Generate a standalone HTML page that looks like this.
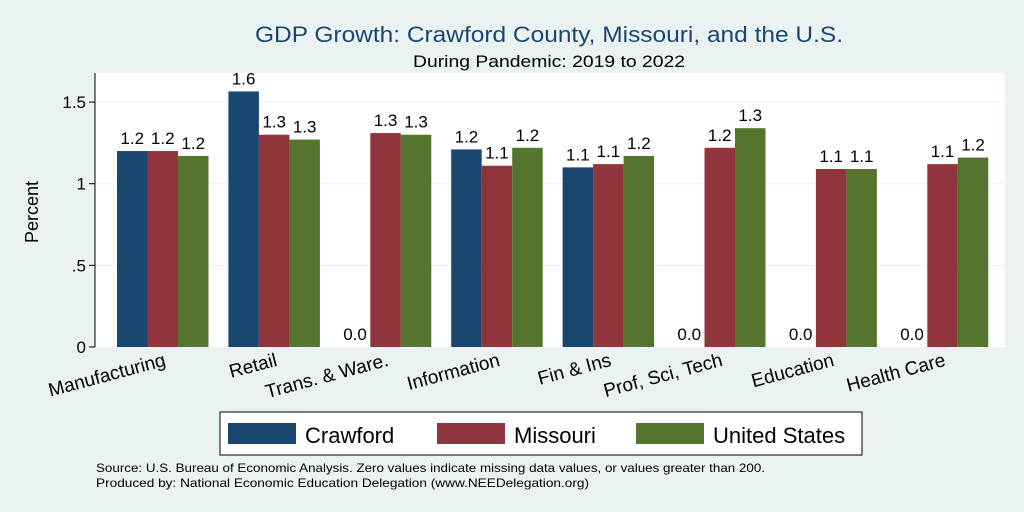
<!DOCTYPE html>
<html><head><meta charset="utf-8"><style>
body{margin:0;background:#eaf2f3;}
svg{display:block;font-family:"Liberation Sans",sans-serif;}
</style></head><body>
<svg id="chart" width="1024" height="512">
<rect x="0" y="0" width="1024" height="512" fill="#eaf2f3"/>
<rect x="95" y="73" width="910" height="274" fill="#ffffff"/>
<text x="549" y="42" text-anchor="middle" font-size="22" textLength="588" lengthAdjust="spacingAndGlyphs" fill="#1a476f">GDP Growth: Crawford County, Missouri, and the U.S.</text>
<text x="549" y="67" text-anchor="middle" font-size="17" textLength="272" lengthAdjust="spacingAndGlyphs" fill="#000">During Pandemic: 2019 to 2022</text>
<text transform="translate(38,212) rotate(-90)" text-anchor="middle" font-size="18">Percent</text>
<g id="grid"></g><g id="bars"></g><g id="axes"></g>
<g>
<rect x="220" y="412" width="642" height="43" fill="#fff" stroke="#000" stroke-width="1"/>
<rect x="228" y="423" width="68" height="21" fill="#1a476f"/>
<text x="305" y="443" font-size="22">Crawford</text>
<rect x="437" y="423" width="68" height="21" fill="#90353b"/>
<text x="514" y="443" font-size="22">Missouri</text>
<rect x="636" y="423" width="68" height="21" fill="#55752f"/>
<text x="713" y="443" font-size="22">United States</text>
</g>
<text x="96" y="472" font-size="12" textLength="669" lengthAdjust="spacingAndGlyphs">Source: U.S. Bureau of Economic Analysis. Zero values indicate missing data values, or values greater than 200.</text>
<text x="96" y="487" font-size="12" textLength="493" lengthAdjust="spacingAndGlyphs">Produced by: National Economic Education Delegation (www.NEEDelegation.org)</text>
</svg>
<script>
const categories=["Manufacturing","Retail","Trans. & Ware.","Information","Fin & Ins","Prof, Sci, Tech","Education","Health Care"];
const crawford=[1.20,1.565,0,1.21,1.10,0,0,0];
const missouri=[1.20,1.30,1.31,1.11,1.12,1.22,1.09,1.12];
const unitedStates=[1.17,1.27,1.30,1.22,1.17,1.34,1.09,1.16];
const yTicks=[0,0.5,1,1.5];
const yTickLabels=["0",".5","1","1.5"];
const NS="http://www.w3.org/2000/svg";
const y0=347,pxPerUnit=163.3;
function yScale(v){return y0-v*pxPerUnit;}
function xGroup(i){return 117+i*111.4;}
const bw=30.5;
function mk(tag,attrs,parent){const e=document.createElementNS(NS,tag);for(const k in attrs)e.setAttribute(k,attrs[k]);parent.appendChild(e);return e;}
const grid=document.getElementById('grid'),bars=document.getElementById('bars'),axes=document.getElementById('axes');
yTicks.forEach((t,i)=>{
  const y=yScale(t);
  if(t>0){const g=mk('line',{x1:95,x2:1005,y1:y,y2:y,stroke:'#eaf2f3','stroke-width':1},grid);
  
  }
  const tk=mk('line',{x1:89,x2:95,y1:y,y2:y,stroke:'#000'},axes);
  
  
  const tx=mk('text',{x:86,y:y+6,'text-anchor':'end','font-size':17},axes);
  tx.textContent=yTickLabels[i];
  
  
});
const ax=mk('line',{x1:95,x2:95,y1:73,y2:347,stroke:'#000'},axes);


const series=[[crawford,'#1a476f','crawford'],[missouri,'#90353b','missouri'],[unitedStates,'#55752f','us']];
categories.forEach((c,i)=>{
  series.forEach((s,j)=>{
    const v=s[0][i];const x=xGroup(i)+j*bw;const y=yScale(v);
    if(v>0){const r=mk('rect',{x:x,y:y,width:bw,height:y0-y,fill:s[1]},bars);
    
    }
    const t=mk('text',{x:x+bw/2,y:y-7,'text-anchor':'middle','font-size':17},bars);
    t.textContent=(Math.round(v*10+1e-6)/10).toFixed(1);
    
    
  });
  const cx=xGroup(i)+bw*1.5;
  const l=mk('text',{transform:'translate('+cx+',351) rotate(-15)','text-anchor':'end','font-size':19,y:15},axes);
  l.textContent=c;
  
  
});
</script>
</body></html>
